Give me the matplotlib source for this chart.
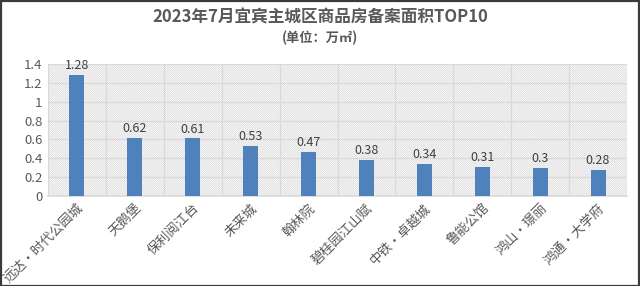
import matplotlib
matplotlib.use("Agg")
import matplotlib.pyplot as plt
from matplotlib.patches import Rectangle

plt.rcParams['font.family'] = ['Noto Sans CJK SC', 'DejaVu Sans']
plt.rcParams['hatch.color'] = '#dadada'
plt.rcParams['hatch.linewidth'] = 0.5

categories = ['远达·时代公园城', '天鹅堡', '保利阅江台', '未来城', '翰林院',
              '碧桂园江山赋', '中铁·卓越城', '鲁能公馆', '鸿山·璟丽', '鸿通·大学府']
values = [1.28, 0.62, 0.61, 0.53, 0.47, 0.38, 0.34, 0.31, 0.3, 0.28]
value_labels = ['1.28', '0.62', '0.61', '0.53', '0.47', '0.38', '0.34', '0.31', '0.3', '0.28']
yticks = [0, 0.2, 0.4, 0.6, 0.8, 1.0, 1.2, 1.4]
ytick_labels = ['0', '0.2', '0.4', '0.6', '0.8', '1', '1.2', '1.4']

W, H = 640, 286
fig = plt.figure(figsize=(W/100, H/100), dpi=100)
fig.patch.set_facecolor('white')
fig.add_artist(Rectangle((0.5/W, 0.5/H), 1-1.5/W, 1-1.5/H, transform=fig.transFigure,
                         fill=False, edgecolor='#3a3a3a', linewidth=1.6))

left, right, top, bottom = 48, 627, 64, 196
ax = fig.add_axes([left/W, 1-bottom/H, (right-left)/W, (bottom-top)/H])
ax.set_xlim(-0.5, len(categories)-0.5)
ax.set_ylim(0, 1.4)

# hatched background
ax.add_patch(Rectangle((0, 0), 1, 1, transform=ax.transAxes, facecolor='white',
                       hatch='\\' * 16, edgecolor='#d6d6d6', linewidth=0, zorder=0))
for y in yticks[1:]:
    ax.axhline(y, color='#d9d9d9', linewidth=0.9, zorder=1)
for i in range(len(categories)+1):
    ax.axvline(i-0.5, color='#d9d9d9', linewidth=0.9, zorder=1)

x = list(range(len(categories)))
ax.bar(x, values, width=0.26, color='#4f81bd', zorder=3)
for xi, v, lab in zip(x, values, value_labels):
    ax.text(xi, v + 0.03, lab, ha='center', va='bottom', fontsize=9, color='#404040', zorder=4)

for s in ['top', 'right', 'left']:
    ax.spines[s].set_visible(False)
ax.spines['bottom'].set_color('#d9d9d9')
ax.spines['bottom'].set_linewidth(1.2)

ax.set_yticks(yticks)
ax.set_yticklabels(ytick_labels, fontsize=9.5, color='#595959')
ax.set_xticks(x)
ax.set_xticklabels(categories, rotation=45, ha='right', rotation_mode='anchor',
                   fontsize=9.5, color='#595959')
ax.tick_params(axis='both', length=0, pad=4)

fig.text(0.5, 1-17/H, '2023年7月宜宾主城区商品房备案面积TOP10', ha='center', va='center',
         fontsize=12, fontweight='bold', color='#595959')
fig.text(0.5, 1-38/H, '(单位：万㎡)', ha='center', va='center',
         fontsize=9.5, fontweight='bold', color='#595959')

fig.savefig('out.png', dpi=100)
